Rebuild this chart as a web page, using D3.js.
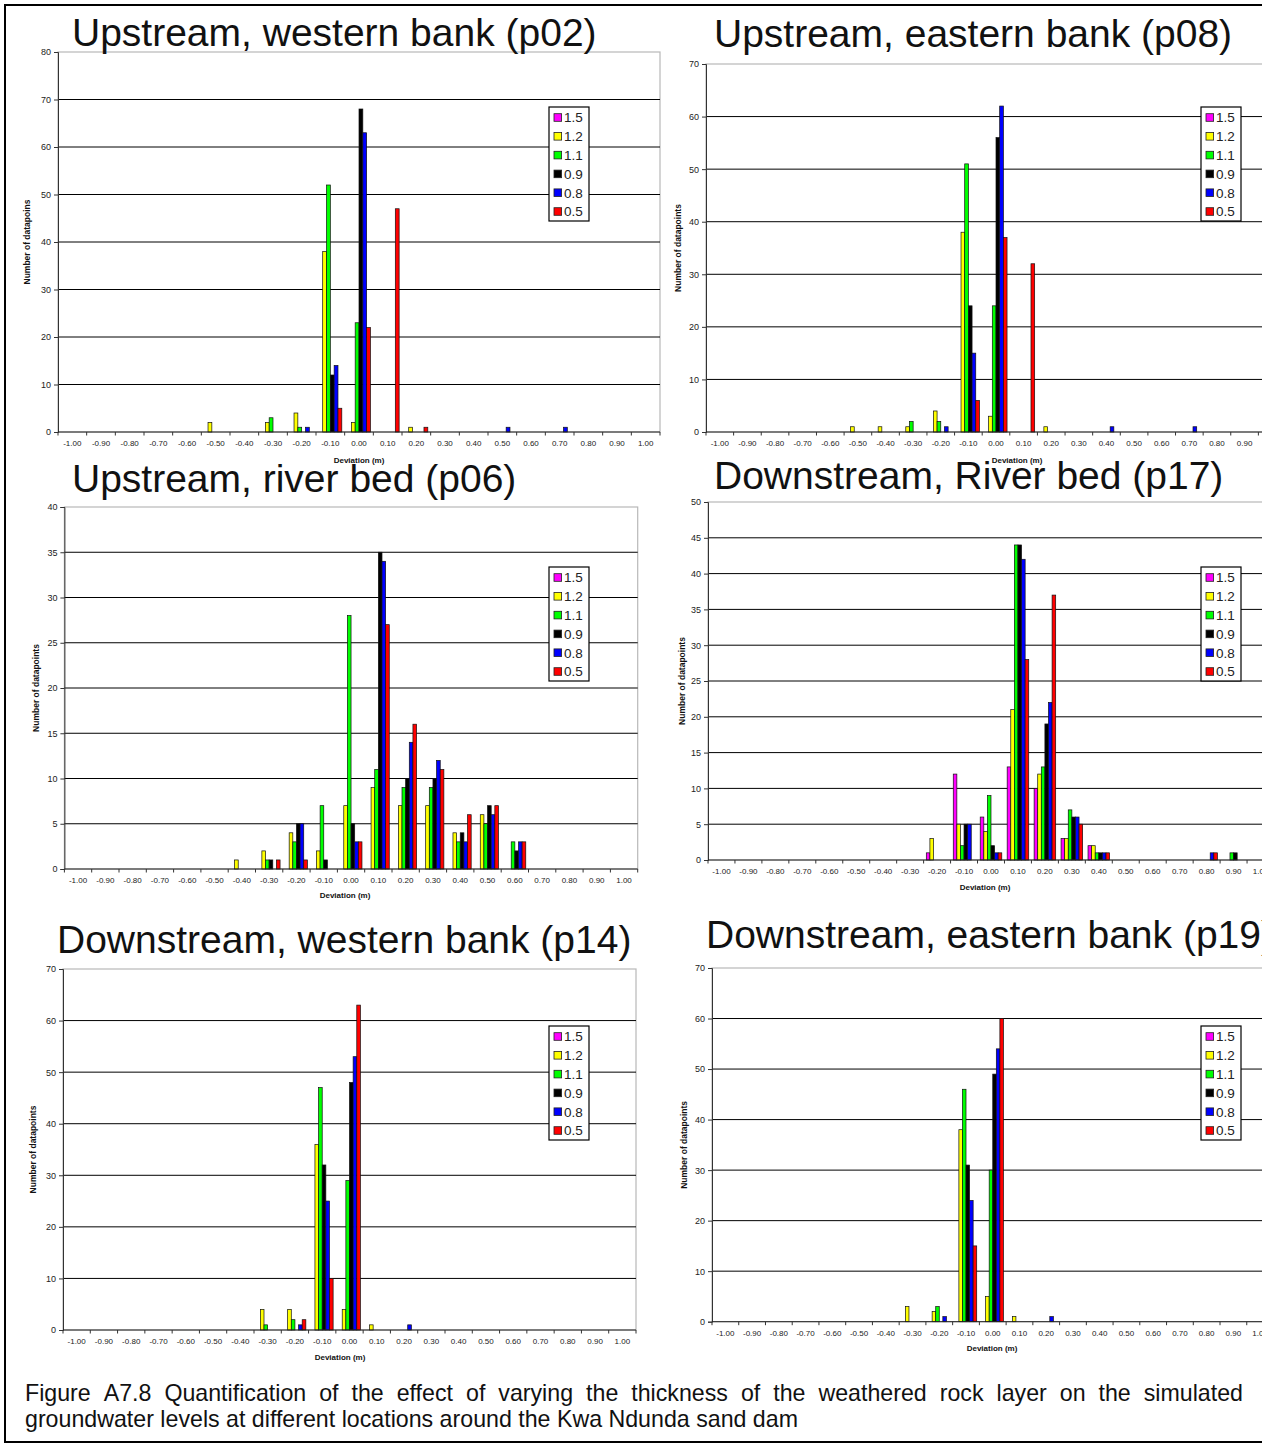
<!DOCTYPE html>
<html><head><meta charset="utf-8">
<script src="https://cdn.jsdelivr.net/npm/d3@7"></script>
<style>
html,body{margin:0;padding:0;background:#fff;overflow:hidden}
svg{display:block}
text{font-family:"Liberation Sans",Arial,Helvetica,sans-serif}
</style>
</head><body>
<svg id="fig" width="1262" height="1445"></svg>
<script>
// Deviation classes (m) on the category axis
const categories = ["-1.00","-0.90","-0.80","-0.70","-0.60","-0.50","-0.40","-0.30","-0.20","-0.10",
  "0.00","0.10","0.20","0.30","0.40","0.50","0.60","0.70","0.80","0.90","1.00"];

// Weathered rock layer thickness scenarios
const seriesNames = ["1.5","1.2","1.1","0.9","0.8","0.5"];
const seriesColors = ["#ff00ff","#ffff00","#00ff00","#000000","#0000ff","#ff0000"];

// Counts per deviation class; one row per scenario (1.5, 1.2, 1.1, 0.9, 0.8, 0.5)
const p02 = [
  [0,0,0,0,0,0,0,0,0,0,0,0,0,0,0,0,0,0,0,0,0],
  [0,0,0,0,0,2,0,2,4,38,2,0,1,0,0,0,0,0,0,0,0],
  [0,0,0,0,0,0,0,3,1,52,23,0,0,0,0,0,0,0,0,0,0],
  [0,0,0,0,0,0,0,0,0,12,68,0,0,0,0,0,0,0,0,0,0],
  [0,0,0,0,0,0,0,0,1,14,63,0,0,0,0,1,0,1,0,0,0],
  [0,0,0,0,0,0,0,0,0,5,22,47,1,0,0,0,0,0,0,0,0]
];
const p08 = [
  [0,0,0,0,0,0,0,0,0,0,0,0,0,0,0,0,0,0,0,0,0],
  [0,0,0,0,0,1,1,1,4,38,3,0,1,0,0,0,0,0,0,0,0],
  [0,0,0,0,0,0,0,2,2,51,24,0,0,0,0,0,0,0,0,0,0],
  [0,0,0,0,0,0,0,0,0,24,56,0,0,0,0,0,0,0,0,0,0],
  [0,0,0,0,0,0,0,0,1,15,62,0,0,0,1,0,0,1,0,0,0],
  [0,0,0,0,0,0,0,0,0,6,37,32,0,0,0,0,0,0,0,0,0]
];
const p06 = [
  [0,0,0,0,0,0,0,0,0,0,0,0,0,0,0,0,0,0,0,0,0],
  [0,0,0,0,0,0,1,2,4,2,7,9,7,7,4,6,0,0,0,0,0],
  [0,0,0,0,0,0,0,1,3,7,28,11,9,9,3,5,3,0,0,0,0],
  [0,0,0,0,0,0,0,1,5,1,5,35,10,10,4,7,2,0,0,0,0],
  [0,0,0,0,0,0,0,0,5,0,3,34,14,12,3,6,3,0,0,0,0],
  [0,0,0,0,0,0,0,1,1,0,3,27,16,11,6,7,3,0,0,0,0]
];
const p17 = [
  [0,0,0,0,0,0,0,0,1,12,6,13,10,3,2,0,0,0,0,0,0],
  [0,0,0,0,0,0,0,0,3,5,4,21,12,3,2,0,0,0,0,0,0],
  [0,0,0,0,0,0,0,0,0,2,9,44,13,7,1,0,0,0,0,1,0],
  [0,0,0,0,0,0,0,0,0,5,2,44,19,6,1,0,0,0,0,1,0],
  [0,0,0,0,0,0,0,0,0,5,1,42,22,6,1,0,0,0,1,0,0],
  [0,0,0,0,0,0,0,0,0,0,1,28,37,5,1,0,0,0,1,0,0]
];
const p14 = [
  [0,0,0,0,0,0,0,0,0,0,0,0,0,0,0,0,0,0,0,0,0],
  [0,0,0,0,0,0,0,4,4,36,4,1,0,0,0,0,0,0,0,0,0],
  [0,0,0,0,0,0,0,1,2,47,29,0,0,0,0,0,0,0,0,0,0],
  [0,0,0,0,0,0,0,0,0,32,48,0,0,0,0,0,0,0,0,0,0],
  [0,0,0,0,0,0,0,0,1,25,53,0,1,0,0,0,0,0,0,0,0],
  [0,0,0,0,0,0,0,0,2,10,63,0,0,0,0,0,0,0,0,0,0]
];
const p19 = [
  [0,0,0,0,0,0,0,0,0,0,0,0,0,0,0,0,0,0,0,0,0],
  [0,0,0,0,0,0,0,3,2,38,5,1,0,0,0,0,0,0,0,0,0],
  [0,0,0,0,0,0,0,0,3,46,30,0,0,0,0,0,0,0,0,0,0],
  [0,0,0,0,0,0,0,0,0,31,49,0,0,0,0,0,0,0,0,0,0],
  [0,0,0,0,0,0,0,0,1,24,54,0,1,0,0,0,0,0,0,0,0],
  [0,0,0,0,0,0,0,0,0,15,60,0,0,0,0,0,0,0,0,0,0]
];

const captionLine1 = "Figure A7.8 Quantification of the effect of varying the thickness of the weathered rock layer on the simulated";
const captionLine2 = "groundwater levels at different locations around the Kwa Ndunda sand dam";

// Panel layout on the page
const panels = [
  {data:p02, title:"Upstream, western bank (p02)", tx:72, ty:46, x0:58, x1:660, y0:52, y1:432, yMax:80, yStep:10,
   yLabel:"Number of datapoins", ylx:30, xlx:359, xly:463, lx:549, ly:107},
  {data:p08, title:"Upstream, eastern bank (p08)", tx:714, ty:47, x0:706, x1:1286, y0:64, y1:432, yMax:70, yStep:10,
   yLabel:"Number of datapoints", ylx:681, xlx:1017, xly:463, lx:1201, ly:107},
  {data:p06, title:"Upstream, river bed (p06)", tx:72, ty:492, x0:64.4, x1:637.7, y0:507, y1:869, yMax:40, yStep:5,
   yLabel:"Number of datapoints", ylx:39, xlx:345, xly:898, lx:549, ly:567},
  {data:p17, title:"Downstream, River bed (p17)", tx:714, ty:489, x0:708, x1:1274, y0:502, y1:860, yMax:50, yStep:5,
   yLabel:"Number of datapoints", ylx:685, xlx:985, xly:890, lx:1201, ly:567},
  {data:p14, title:"Downstream, western bank (p14)", tx:57, ty:953, x0:63, x1:636, y0:969, y1:1330, yMax:70, yStep:10,
   yLabel:"Number of datapoints", ylx:36, xlx:340, xly:1360, lx:549, ly:1026},
  {data:p19, title:"Downstream, eastern bank (p19)", tx:706, ty:948, x0:712, x1:1273.5, y0:968, y1:1321.7, yMax:70, yStep:10,
   yLabel:"Number of datapoints", ylx:687, xlx:992, xly:1351, lx:1201, ly:1026}
];

const svg = d3.select("#fig");
svg.append("rect").attr("width",1262).attr("height",1445).attr("fill","#fff");

const chartLayer = svg.append("g");
const titleLayer = svg.append("g");

panels.forEach(p => {
  const g = chartLayer.append("g");
  const x = d3.scaleBand().domain(categories).range([p.x0, p.x1]).padding(0);
  const xs = d3.scaleBand().domain(seriesNames).range([0, x.bandwidth()])
    .paddingInner(0).paddingOuter(0.75);
  const y = d3.scaleLinear().domain([0, p.yMax]).range([p.y1, p.y0]);
  const ticks = d3.range(0, p.yMax + 0.001, p.yStep);

  // plot area border (light grey)
  g.append("rect").attr("x", p.x0).attr("y", p.y0)
    .attr("width", p.x1 - p.x0).attr("height", p.y1 - p.y0)
    .attr("fill", "#fff").attr("stroke", "#b8b8b8").attr("stroke-width", 1.2);

  // horizontal gridlines
  g.append("g").selectAll("line").data(ticks.filter(t => t > 0 && t < p.yMax)).join("line")
    .attr("x1", p.x0).attr("x2", p.x1)
    .attr("y1", d => y(d)).attr("y2", d => y(d))
    .attr("stroke", "#000").attr("stroke-width", 1);

  // bars
  const bars = [];
  p.data.forEach((row, si) => row.forEach((v, ci) => {
    if (v > 0) bars.push({s: seriesNames[si], c: categories[ci], v, color: seriesColors[si]});
  }));
  g.append("g").selectAll("rect").data(bars).join("rect")
    .attr("x", d => x(d.c) + xs(d.s))
    .attr("width", xs.bandwidth())
    .attr("y", d => y(d.v))
    .attr("height", d => y(0) - y(d.v))
    .attr("fill", d => d.color)
    .attr("stroke", "#111").attr("stroke-width", 0.7);

  // y axis
  const yAxis = d3.axisLeft(y).tickValues(ticks).tickSize(4).tickPadding(3).tickFormat(d3.format("d"));
  const ya = g.append("g").attr("transform", `translate(${p.x0},0)`).call(yAxis);
  ya.select(".domain").attr("stroke", "#333");
  ya.selectAll(".tick line").attr("stroke", "#333");
  ya.selectAll("text").attr("font-size", 9).attr("fill", "#222")
    .attr("font-family", '"Liberation Sans",Arial,sans-serif');

  // x axis: ticks between categories
  const xa = g.append("g").attr("transform", `translate(0,${p.y1})`);
  xa.append("line").attr("x1", p.x0).attr("x2", p.x1).attr("stroke", "#222").attr("stroke-width", 1);
  const bounds = d3.range(categories.length + 1).map(i => p.x0 + i * x.step());
  xa.selectAll("line.tk").data(bounds).join("line").attr("class", "tk")
    .attr("x1", d => d).attr("x2", d => d).attr("y1", 0).attr("y2", 3.5)
    .attr("stroke", "#333");
  xa.selectAll("text").data(categories).join("text")
    .attr("x", d => x(d) + x.bandwidth() / 2).attr("y", 14)
    .attr("text-anchor", "middle").attr("font-size", 8).attr("fill", "#222")
    .text(d => d);

  // axis titles
  g.append("text").attr("x", p.xlx).attr("y", p.xly).attr("text-anchor", "middle")
    .attr("font-size", 8).attr("font-weight", "bold").attr("fill", "#111").text("Deviation (m)");
  g.append("text")
    .attr("transform", `translate(${p.ylx},${(p.y0 + p.y1) / 2}) rotate(-90)`)
    .attr("text-anchor", "middle").attr("font-size", 8.5).attr("font-weight", "bold")
    .attr("fill", "#111").text(p.yLabel);

  // legend
  const lg = g.append("g").attr("transform", `translate(${p.lx},${p.ly})`);
  lg.append("rect").attr("width", 40).attr("height", 114)
    .attr("fill", "#fff").attr("stroke", "#000").attr("stroke-width", 1.2);
  const items = lg.selectAll("g").data(seriesNames).join("g")
    .attr("transform", (d, i) => `translate(5,${10.5 + i * 18.8})`);
  items.append("rect").attr("x", 0).attr("y", -3.8).attr("width", 7.6).attr("height", 7.6)
    .attr("fill", (d, i) => seriesColors[i]).attr("stroke", "#222").attr("stroke-width", 0.8);
  items.append("text").attr("x", 10).attr("y", 4.8).attr("font-size", 13.5).attr("fill", "#222")
    .text(d => d);

  // panel title
  titleLayer.append("text").attr("x", p.tx).attr("y", p.ty).attr("font-size", 39)
    .attr("fill", "#111").text(p.title);
});

// outer frame
svg.append("rect").attr("x", 5).attr("y", 5).attr("width", 1320).attr("height", 1437)
  .attr("fill", "none").attr("stroke", "#000").attr("stroke-width", 2);

// caption, first line justified
const cap = svg.append("g").attr("fill", "#111").attr("font-size", 23.2);
const words = captionLine1.split(" ");
const left = 25, right = 1243;
const wNodes = words.map(w => cap.append("text").attr("y", 1401).text(w));
const widths = wNodes.map(n => n.node().getComputedTextLength());
const gap = (right - left - d3.sum(widths)) / (words.length - 1);
let cx = left;
wNodes.forEach((n, i) => { n.attr("x", cx); cx += widths[i] + gap; });
cap.append("text").attr("x", left).attr("y", 1427).text(captionLine2);
</script>
</body></html>
